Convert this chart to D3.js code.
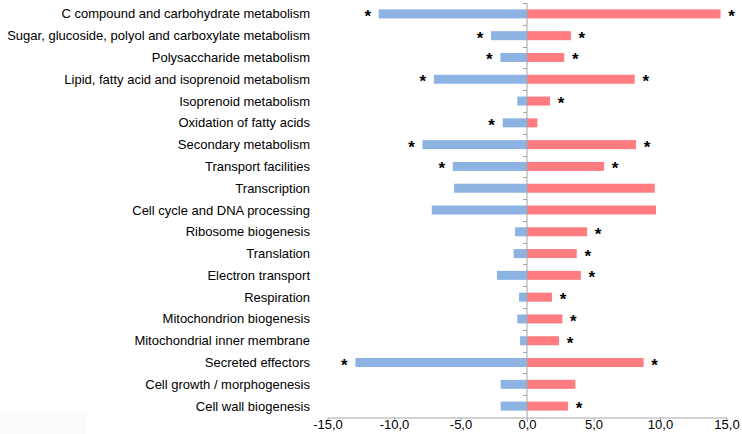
<!DOCTYPE html>
<html><head><meta charset="utf-8">
<script src="https://cdn.jsdelivr.net/npm/d3@7"></script>
<style>body{margin:0;background:#fff}svg{display:block}</style>
</head><body>
<svg id="c" width="742" height="434"></svg>
<script>
const categories = ["C compound and carbohydrate metabolism","Sugar, glucoside, polyol and carboxylate metabolism","Polysaccharide metabolism","Lipid, fatty acid and isoprenoid metabolism","Isoprenoid metabolism","Oxidation of fatty acids","Secondary metabolism","Transport facilities","Transcription","Cell cycle and DNA processing","Ribosome biogenesis","Translation","Electron transport","Respiration","Mitochondrion biogenesis","Mitochondrial inner membrane","Secreted effectors","Cell growth / morphogenesis","Cell wall biogenesis"];
const downValues = [-11.15,-2.7,-2.0,-7.0,-0.73,-1.83,-7.86,-5.58,-5.48,-7.16,-0.9,-1.0,-2.26,-0.6,-0.73,-0.53,-12.9,-1.98,-1.98];
const upValues = [14.55,3.3,2.8,8.1,1.73,0.78,8.2,5.8,9.6,9.7,4.52,3.74,4.05,1.88,2.66,2.41,8.77,3.64,3.09];
const downSig = [1,1,1,1,0,1,1,1,0,0,0,0,0,0,0,0,1,0,0];
const upSig = [1,1,1,1,1,0,1,1,0,0,1,1,1,1,1,1,1,0,1];
const tickValues = [-15,-10,-5,0,5,10,15];

const svg = d3.select("#c");
svg.append("rect").attr("x",0).attr("y",412).attr("width",87).attr("height",22).attr("fill","#fbfbfb");
const x = d3.scaleLinear().domain([-15,15]).range([327.5,726.5]);
const y = d3.scaleBand().domain(categories).range([3,417]).paddingInner(0);
const barH = 9;
const font = "Liberation Sans, Arial, sans-serif";

function drawBars(vals, color){
  svg.append("g").selectAll("rect").data(vals).join("rect")
    .attr("x", d => Math.min(x(0), x(d)))
    .attr("width", d => Math.abs(x(d) - x(0)))
    .attr("y", (d,i) => y(categories[i]) + y.bandwidth()/2 - barH/2)
    .attr("height", barH)
    .attr("fill", color);
}
drawBars(downValues, "#8db3e2");
drawBars(upValues, "#ff7c80");

const g0 = svg.append("g");
g0.append("line").attr("x1",x(0)).attr("x2",x(0)).attr("y1",3).attr("y2",417).attr("stroke","#a6a6a6").attr("stroke-width",1);
g0.selectAll("line.t").data(categories).join("line").attr("class","t")
  .attr("x1",x(0)-4).attr("x2",x(0)).attr("y1",d=>Math.round(y(d))+0.5).attr("y2",d=>Math.round(y(d))+0.5)
  .attr("stroke","#a6a6a6");

const xAxis = d3.axisBottom(x).tickValues(tickValues).tickSize(4).tickSizeOuter(0)
  .tickFormat(d => d3.format(".1f")(d).replace(".", ",").replace("−","-"));
const ax = svg.append("g").attr("transform","translate(0,417.5)").call(xAxis);
ax.select(".domain").attr("stroke","#a6a6a6");
ax.selectAll(".tick line").attr("stroke","#a6a6a6");
ax.selectAll(".tick text").attr("font-family",font).attr("font-size","13px").attr("fill","#000").attr("dy","0.55em").attr("y",4);

svg.append("g").selectAll("text").data(categories).join("text")
  .attr("x",310).attr("y",d=>y(d)+y.bandwidth()/2).attr("dy","0.35em")
  .attr("text-anchor","end").attr("font-family",font).attr("font-size","13px").attr("fill","#000")
  .text(d=>d);

function drawStars(vals, sig, dir){
  svg.append("g").selectAll("text").data(vals.map((v,i)=>({v,i})).filter(d=>sig[d.i]))
    .join("text")
    .attr("x", d => x(d.v) + dir*11)
    .attr("y", d => y(categories[d.i]) + y.bandwidth()/2 + 8)
    .attr("text-anchor","middle").attr("font-family",font).attr("font-size","17px").attr("font-weight","bold").attr("fill","#000")
    .text("*");
}
drawStars(downValues, downSig, -1);
drawStars(upValues, upSig, 1);
</script>
</body></html>
